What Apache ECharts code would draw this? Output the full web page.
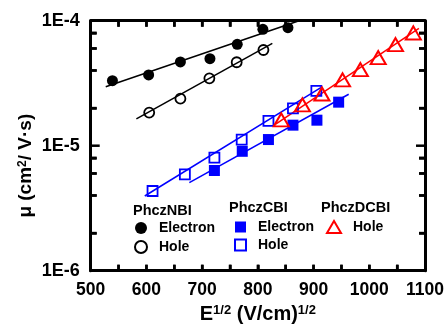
<!DOCTYPE html>
<html><head><meta charset="utf-8">
<script src="https://cdn.jsdelivr.net/npm/echarts@6/dist/echarts.min.js"></script>
<style>html,body{margin:0;padding:0;background:#fff}#c{width:447px;height:332px}</style>
</head><body><div id="c"></div>
<script>
// PhczNBI
const nbiElecX = [539, 604, 661, 714, 763, 809, 854];
const nbiElecY = [3.31e-5, 3.68e-5, 4.68e-5, 4.97e-5, 6.47e-5, 8.53e-5, 8.79e-5];
const nbiHoleX = [605, 661, 713, 762, 810];
const nbiHoleY = [1.84e-5, 2.38e-5, 3.46e-5, 4.65e-5, 5.83e-5];
// PhczCBI
const cbiElecX = [722, 772, 819, 863, 906, 945];
const cbiElecY = [6.33e-6, 9.02e-6, 1.12e-5, 1.46e-5, 1.60e-5, 2.23e-5];
const cbiHoleX = [611, 669, 722, 771, 819, 863, 905];
const cbiHoleY = [4.34e-6, 5.90e-6, 8.02e-6, 1.12e-5, 1.58e-5, 1.99e-5, 2.75e-5];
// PhczDCBI
const dcbiHoleX = [842, 880, 915, 952, 984, 1016, 1047, 1079];
const dcbiHoleY = [1.61e-5, 2.12e-5, 2.59e-5, 3.36e-5, 4.06e-5, 5.06e-5, 6.43e-5, 7.98e-5];
// fit line end points
const nbiElecFitX = [527, 874], nbiElecFitY = [2.96e-5, 1.0e-4];
const nbiHoleFitX = [582, 826], nbiHoleFitY = [1.64e-5, 6.59e-5];
const cbiElecFitX = [677, 963], cbiElecFitY = [5.06e-6, 2.58e-5];
const cbiHoleFitX = [597, 913], cbiHoleFitY = [3.96e-6, 2.92e-5];
const dcbiFitX = [832, 1089], dcbiFitY = [1.49e-5, 8.69e-5];
// ticks
const xTickAll = [550, 600, 650, 700, 750, 800, 850, 900, 950, 1000, 1050];
const yMajor = [1e-6, 1e-5, 1e-4];
const yMajorInner = [1e-5];
const yMinor = [2e-6, 4e-6, 6e-6, 8e-6, 2e-5, 4e-5, 6e-5, 8e-5];

const X_MIN = 500, X_MAX = 1100, Y_MIN = 1e-6, Y_MAX = 1e-4;
const zip = (a, b) => a.map((v, i) => [v, b[i]]);
const FONT = '"Liberation Sans", Arial, sans-serif';
const BLUE = '#0000ff', RED = '#ff0000';

const chart = echarts.init(document.getElementById('c'));

function xAxisDef(pos, withLabel) {
  const a = {
    type: 'value', min: X_MIN, max: X_MAX, interval: 100, position: pos, z: 10,
    axisLine: {show: true, onZero: false, lineStyle: {color: '#000', width: 3}},
    axisTick: {show: true, inside: true, length: 6, customValues: xTickAll, lineStyle: {color: '#000', width: 2.5}},
    splitLine: {show: false},
    axisLabel: {show: withLabel, margin: 10, color: '#000', fontFamily: FONT, fontWeight: 'bold', fontSize: 17.5,
      formatter: v => String(v)}
  };
  if (withLabel) {
    a.name = 'E{sup|1/2} (V/cm){sup|1/2}';
    a.nameLocation = 'middle';
    a.nameGap = 24;
    a.nameTextStyle = {color: '#000', fontFamily: FONT, fontWeight: 'bold', fontSize: 20, lineHeight: 22,
      rich: {sup: {fontFamily: FONT, fontWeight: 'bold', fontSize: 13, verticalAlign: 'top', lineHeight: 13, color: '#000'}}};
  }
  return a;
}
function yAxisDef(pos, withLabel) {
  return {
    type: 'log', logBase: 10, min: Y_MIN, max: Y_MAX, position: pos, z: 10,
    axisLine: {show: true, onZero: false, lineStyle: {color: '#000', width: 3}},
    axisTick: {show: true, inside: true, length: 6, customValues: yMinor, lineStyle: {color: '#000', width: 2.5}},
    splitLine: {show: false},
    axisLabel: {show: withLabel, margin: 11, color: '#000', fontFamily: FONT, fontWeight: 'bold', fontSize: 18,
      customValues: yMajor, formatter: v => '1E' + Math.round(Math.log10(v))}
  };
}

function fit(name, xs, ys, color) {
  return {type: 'line', name: name, data: zip(xs, ys), symbol: 'none', silent: true,
    lineStyle: {color: color, width: 1.5}, z: 2, clip: true};
}

const option = {
  animation: false,
  grid: {left: 90.7, top: 20.7, right: 20.3, bottom: 61.3},
  xAxis: [xAxisDef('bottom', true), xAxisDef('top', false)],
  yAxis: [yAxisDef('left', true), yAxisDef('right', false)],
  title: [
    {text: 'PhczNBI', left: 133, top: 203, padding: 0, textStyle: {fontFamily: FONT, fontWeight: 'bold', fontSize: 14.5, color: '#000'}},
    {text: 'PhczCBI', left: 229, top: 200, padding: 0, textStyle: {fontFamily: FONT, fontWeight: 'bold', fontSize: 14.5, color: '#000'}},
    {text: 'PhczDCBI', left: 321, top: 200, padding: 0, textStyle: {fontFamily: FONT, fontWeight: 'bold', fontSize: 14.5, color: '#000'}}
  ],
  legend: [
    {data: ['PhczNBI Electron', 'PhczNBI Hole'], orient: 'vertical', left: 134, top: 221, padding: 0,
      itemWidth: 12, itemHeight: 12, itemGap: 5, formatter: n => n.split(' ')[1],
      textStyle: {fontFamily: FONT, fontWeight: 'bold', fontSize: 14, color: '#000', padding: [0, 0, 0, 7]}},
    {data: ['PhczCBI Electron', 'PhczCBI Hole'], orient: 'vertical', left: 234, top: 220, padding: 0,
      itemWidth: 11, itemHeight: 11, itemGap: 4, formatter: n => n.split(' ')[1],
      textStyle: {fontFamily: FONT, fontWeight: 'bold', fontSize: 14, color: '#000', padding: [0, 0, 0, 7]}},
    {data: ['PhczDCBI Hole'], orient: 'vertical', left: 326, top: 220, padding: 0,
      itemWidth: 14, itemHeight: 12, itemGap: 4, formatter: n => n.split(' ')[1],
      textStyle: {fontFamily: FONT, fontWeight: 'bold', fontSize: 14, color: '#000', padding: [0, 0, 0, 7]}}
  ],
  series: [
    fit('fitNE', nbiElecFitX, nbiElecFitY, '#000'),
    fit('fitNH', nbiHoleFitX, nbiHoleFitY, '#000'),
    fit('fitCE', cbiElecFitX, cbiElecFitY, BLUE),
    fit('fitCH', cbiHoleFitX, cbiHoleFitY, BLUE),
    fit('fitDH', dcbiFitX, dcbiFitY, RED),
    {type: 'scatter', name: 'PhczNBI Electron', data: zip(nbiElecX, nbiElecY), symbol: 'circle', symbolSize: 11,
      itemStyle: {color: '#000', opacity: 1}, z: 3},
    {type: 'scatter', name: 'PhczNBI Hole', data: zip(nbiHoleX, nbiHoleY), symbol: 'circle', symbolSize: 10,
      itemStyle: {color: 'rgba(255,255,255,0)', borderColor: '#000', borderWidth: 1.8, opacity: 1}, z: 3},
    {type: 'scatter', name: 'PhczCBI Electron', data: zip(cbiElecX, cbiElecY), symbol: 'rect', symbolSize: 11,
      itemStyle: {color: BLUE, opacity: 1}, z: 3},
    {type: 'scatter', name: 'PhczCBI Hole', data: zip(cbiHoleX, cbiHoleY), symbol: 'rect', symbolSize: 10,
      itemStyle: {color: 'rgba(255,255,255,0)', borderColor: BLUE, borderWidth: 1.8, opacity: 1}, z: 3},
    {type: 'scatter', name: 'PhczDCBI Hole', data: zip(dcbiHoleX, dcbiHoleY), symbol: 'triangle', symbolSize: [15, 13],
      itemStyle: {color: 'rgba(255,255,255,0)', borderColor: RED, borderWidth: 2, opacity: 1}, z: 3}
  ]
};
chart.setOption(option);

// y-axis title and inward tick marks, positioned through the chart's own scales
const px = (x, y) => chart.convertToPixel({gridIndex: 0}, [x, y]);
const tickEls = [];
const TS = {stroke: '#000', lineWidth: 2.5};
xTickAll.forEach(v => {
  const p = px(v, Y_MIN), q = px(v, Y_MAX);
  tickEls.push({type: 'line', z: 100, silent: true, shape: {x1: p[0], y1: p[1], x2: p[0], y2: p[1] - 6}, style: TS});
  tickEls.push({type: 'line', z: 100, silent: true, shape: {x1: q[0], y1: q[1], x2: q[0], y2: q[1] + 6}, style: TS});
});
yMinor.concat(yMajorInner).forEach(v => {
  const len = yMajorInner.indexOf(v) >= 0 ? 9 : 6;
  const p = px(X_MIN, v), q = px(X_MAX, v);
  tickEls.push({type: 'line', z: 100, silent: true, shape: {x1: p[0], y1: p[1], x2: p[0] + len, y2: p[1]}, style: TS});
  tickEls.push({type: 'line', z: 100, silent: true, shape: {x1: q[0], y1: q[1], x2: q[0] - len, y2: q[1]}, style: TS});
});
const yTitlePos = px(X_MIN, 1e-5);
tickEls.push({type: 'text', x: 26, y: yTitlePos[1] + 20, rotation: Math.PI / 2, silent: true,
  style: {text: 'μ (cm{sup|2}/ V·s)', fill: '#000', font: 'bold 19px ' + FONT, align: 'center', verticalAlign: 'middle',
    rich: {sup: {fontSize: 12, fontWeight: 'bold', fontFamily: FONT, verticalAlign: 'top', lineHeight: 12, fill: '#000'}}}});
chart.setOption({graphic: tickEls});
</script></body></html>
